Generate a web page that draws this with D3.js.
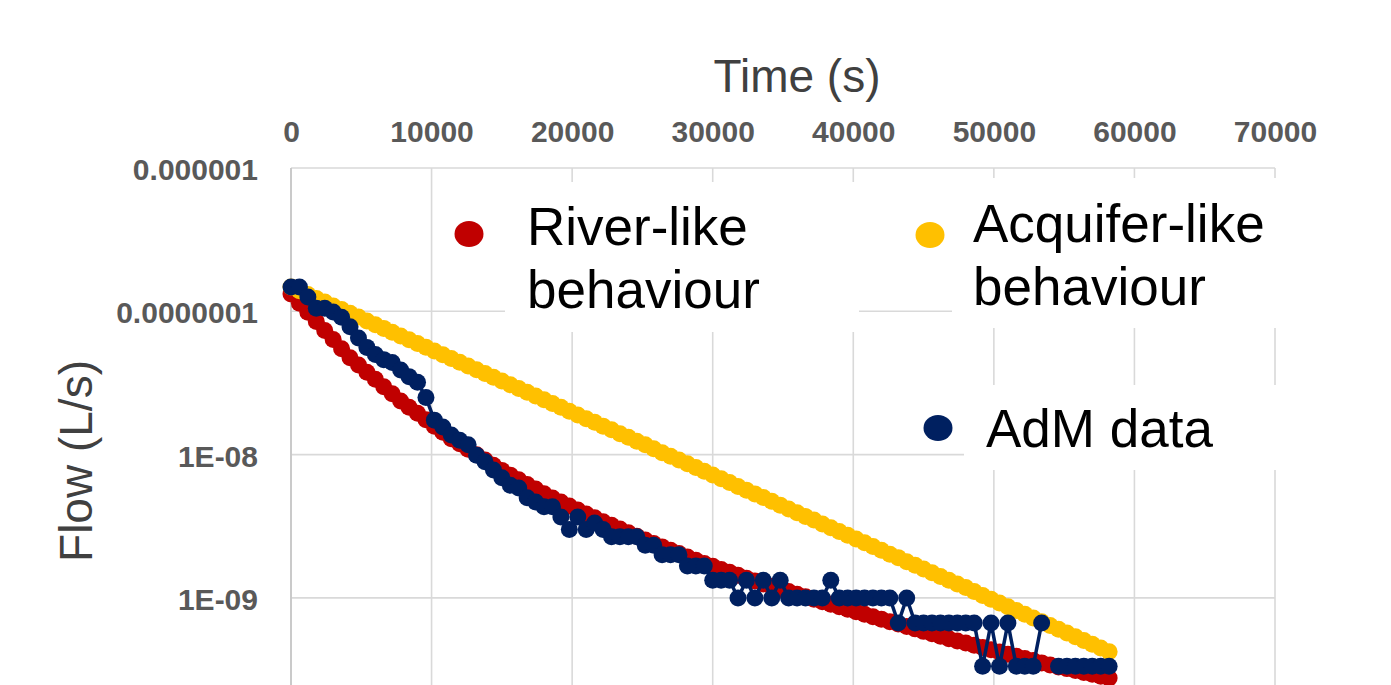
<!DOCTYPE html>
<html>
<head>
<meta charset="utf-8">
<script src="https://cdn.jsdelivr.net/npm/d3@7"></script>
<style>
  html, body { margin: 0; padding: 0; background: #fff; overflow: hidden; }
  svg { display: block; font-family: 'Liberation Sans', Arial, sans-serif; }
</style>
</head>
<body>
<div id="chart"></div>
<script>
// Sample times (s), one reading every 10 minutes
const times = [
  0, 600, 1200, 1800, 2400, 3000, 3600, 4200, 4800, 5400,
  6000, 6600, 7200, 7800, 8400, 9000, 9600, 10200, 10800, 11400,
  12000, 12600, 13200, 13800, 14400, 15000, 15600, 16200, 16800, 17400,
  18000, 18600, 19200, 19800, 20400, 21000, 21600, 22200, 22800, 23400,
  24000, 24600, 25200, 25800, 26400, 27000, 27600, 28200, 28800, 29400,
  30000, 30600, 31200, 31800, 32400, 33000, 33600, 34200, 34800, 35400,
  36000, 36600, 37200, 37800, 38400, 39000, 39600, 40200, 40800, 41400,
  42000, 42600, 43200, 43800, 44400, 45000, 45600, 46200, 46800, 47400,
  48000, 48600, 49200, 49800, 50400, 51000, 51600, 52200, 52800, 53400,
  54000, 54600, 55200, 55800, 56400, 57000, 57600, 58200
];

const riverFlow = [
  1.32e-7, 1.14e-7, 9.84e-8, 8.50e-8, 7.35e-8, 6.35e-8, 5.47e-8, 4.74e-8, 4.22e-8, 3.76e-8,
  3.35e-8, 2.98e-8, 2.66e-8, 2.37e-8, 2.14e-8, 1.94e-8, 1.75e-8, 1.58e-8, 1.43e-8, 1.29e-8,
  1.19e-8, 1.09e-8, 9.98e-9, 9.17e-9, 8.42e-9, 7.76e-9, 7.19e-9, 6.68e-9, 6.19e-9, 5.75e-9,
  5.34e-9, 4.97e-9, 4.67e-9, 4.38e-9, 4.11e-9, 3.85e-9, 3.62e-9, 3.40e-9, 3.21e-9, 3.02e-9,
  2.85e-9, 2.69e-9, 2.54e-9, 2.40e-9, 2.27e-9, 2.15e-9, 2.04e-9, 1.93e-9, 1.83e-9, 1.74e-9,
  1.66e-9, 1.58e-9, 1.51e-9, 1.44e-9, 1.37e-9, 1.31e-9, 1.25e-9, 1.20e-9, 1.15e-9, 1.11e-9,
  1.06e-9, 1.02e-9, 9.79e-10, 9.41e-10, 9.02e-10, 8.67e-10, 8.33e-10, 8.00e-10, 7.69e-10, 7.39e-10,
  7.11e-10, 6.83e-10, 6.57e-10, 6.32e-10, 6.08e-10, 5.84e-10, 5.62e-10, 5.40e-10, 5.19e-10, 5.01e-10,
  4.84e-10, 4.67e-10, 4.51e-10, 4.35e-10, 4.20e-10, 4.05e-10, 3.91e-10, 3.78e-10, 3.65e-10, 3.52e-10,
  3.40e-10, 3.30e-10, 3.21e-10, 3.11e-10, 3.02e-10, 2.93e-10, 2.84e-10, 2.76e-10
];

const aquiferFlow = [
  1.48e-7, 1.39e-7, 1.31e-7, 1.23e-7, 1.16e-7, 1.09e-7, 1.03e-7, 9.68e-8, 9.11e-8, 8.57e-8,
  8.07e-8, 7.60e-8, 7.15e-8, 6.73e-8, 6.34e-8, 5.97e-8, 5.62e-8, 5.29e-8, 4.98e-8, 4.69e-8,
  4.41e-8, 4.15e-8, 3.91e-8, 3.68e-8, 3.46e-8, 3.26e-8, 3.07e-8, 2.89e-8, 2.72e-8, 2.56e-8,
  2.41e-8, 2.27e-8, 2.14e-8, 2.01e-8, 1.89e-8, 1.78e-8, 1.68e-8, 1.58e-8, 1.49e-8, 1.40e-8,
  1.32e-8, 1.24e-8, 1.17e-8, 1.10e-8, 1.03e-8, 9.74e-9, 9.17e-9, 8.63e-9, 8.12e-9, 7.65e-9,
  7.20e-9, 6.78e-9, 6.38e-9, 6.00e-9, 5.65e-9, 5.32e-9, 5.01e-9, 4.72e-9, 4.44e-9, 4.18e-9,
  3.93e-9, 3.70e-9, 3.49e-9, 3.28e-9, 3.09e-9, 2.91e-9, 2.74e-9, 2.58e-9, 2.43e-9, 2.28e-9,
  2.15e-9, 2.02e-9, 1.91e-9, 1.79e-9, 1.69e-9, 1.59e-9, 1.50e-9, 1.41e-9, 1.33e-9, 1.25e-9,
  1.18e-9, 1.11e-9, 1.04e-9, 9.80e-10, 9.23e-10, 8.68e-10, 8.18e-10, 7.70e-10, 7.24e-10, 6.82e-10,
  6.42e-10, 6.04e-10, 5.69e-10, 5.36e-10, 5.04e-10, 4.75e-10, 4.47e-10, 4.21e-10
];

// measured data, one missing reading at 54000 s
const admFlow = [
  1.48e-7, 1.48e-7, 1.26e-7, 1.05e-7, 1.05e-7, 9.9e-8, 9.1e-8, 7.8e-8, 6.5e-8, 5.6e-8,
  5.0e-8, 4.6e-8, 4.4e-8, 3.9e-8, 3.5e-8, 3.2e-8, 2.5e-8, 1.74e-8, 1.56e-8, 1.37e-8,
  1.26e-8, 1.17e-8, 9.9e-9, 8.9e-9, 7.8e-9, 6.9e-9, 6.1e-9, 5.85e-9, 5.0e-9, 4.67e-9,
  4.33e-9, 4.33e-9, 3.67e-9, 3.0e-9, 3.67e-9, 3.0e-9, 3.33e-9, 3.0e-9, 2.67e-9, 2.67e-9,
  2.67e-9, 2.67e-9, 2.33e-9, 2.33e-9, 2.0e-9, 2.0e-9, 2.0e-9, 1.67e-9, 1.67e-9, 1.67e-9,
  1.33e-9, 1.33e-9, 1.33e-9, 1.0e-9, 1.33e-9, 1.0e-9, 1.33e-9, 1.0e-9, 1.33e-9, 1.0e-9,
  1.0e-9, 1.0e-9, 1.0e-9, 1.0e-9, 1.33e-9, 1.0e-9, 1.0e-9, 1.0e-9, 1.0e-9, 1.0e-9,
  1.0e-9, 1.0e-9, 6.67e-10, 1.0e-9, 6.67e-10, 6.67e-10, 6.67e-10, 6.67e-10, 6.67e-10, 6.67e-10,
  6.67e-10, 6.67e-10, 3.33e-10, 6.67e-10, 3.33e-10, 6.67e-10, 3.33e-10, 3.33e-10, 3.33e-10, 6.67e-10,
  null, 3.33e-10, 3.33e-10, 3.33e-10, 3.33e-10, 3.33e-10, 3.33e-10, 3.33e-10
];

const xTicks = [0, 10000, 20000, 30000, 40000, 50000, 60000, 70000];
const yTicks = [1e-6, 1e-7, 1e-8, 1e-9];
const yTickLabels = ['0.000001', '0.0000001', '1E-08', '1E-09'];

const seriesNames = ['River-like behaviour', 'Acquifer-like behaviour', 'AdM data'];
const seriesColors = ['#C00000', '#FFC000', '#002060'];

const W = 1391, H = 685;
const margin = { top: 168, left: 291 };
const width = 984;          // 0 .. 70000 s
const height = 573.2;       // 1e-6 .. 1e-10 (bottom decade falls off the page)

const x = d3.scaleLinear().domain([0, 70000]).range([0, width]);
const y = d3.scaleLog().domain([1e-6, 1e-10]).range([0, height]);

const svg = d3.select('#chart').append('svg')
  .attr('width', W).attr('height', H)
  .attr('viewBox', `0 0 ${W} ${H}`);

const viz = svg.append('g')
  .attr('transform', `translate(${margin.left},${margin.top})`);

// gridlines
const gridColor = '#d9d9d9';
viz.append('g').selectAll('line').data(xTicks).join('line')
  .attr('x1', d => x(d)).attr('x2', d => x(d))
  .attr('y1', 0).attr('y2', height)
  .attr('stroke', gridColor).attr('stroke-width', 1.6);
viz.append('g').selectAll('line').data(yTicks).join('line')
  .attr('x1', 0).attr('x2', width)
  .attr('y1', d => y(d)).attr('y2', d => y(d))
  .attr('stroke', gridColor).attr('stroke-width', 1.6);
// left axis line a touch darker
viz.append('line')
  .attr('x1', 0).attr('x2', 0).attr('y1', 0).attr('y2', height)
  .attr('stroke', '#c8c8c8').attr('stroke-width', 1.8);

// axes (labels only)
const xAxis = d3.axisTop(x).tickValues(xTicks).tickFormat(d3.format('d'))
  .tickSize(0).tickPadding(26);
const gx = viz.append('g').call(xAxis);
const yAxis = d3.axisLeft(y).tickValues(yTicks)
  .tickFormat((d, i) => yTickLabels[i]).tickSize(0).tickPadding(33);
const gy = viz.append('g').call(yAxis);
[gx, gy].forEach(g => {
  g.select('.domain').remove();
  g.selectAll('text')
    .attr('fill', '#595959')
    .style('font-family', "'Liberation Sans', Arial, sans-serif")
    .style('font-size', '30px')
    .style('font-weight', 'bold');
});
gy.selectAll('text').attr('dy', '0.38em');

// axis titles
svg.append('text')
  .attr('x', 797).attr('y', 92)
  .attr('text-anchor', 'middle')
  .attr('fill', '#404040')
  .style('font-size', '46px')
  .text('Time (s)');
svg.append('text')
  .attr('transform', 'translate(92,461) rotate(-90)')
  .attr('text-anchor', 'middle')
  .attr('fill', '#404040')
  .style('font-size', '46px')
  .text('Flow (L/s)');

// legend text boxes (white, they hide the gridlines behind them)
const legendBoxes = [
  { x: 505, y: 182, w: 354, h: 150 },
  { x: 952, y: 178, w: 340, h: 150 },
  { x: 964, y: 385, w: 328, h: 85 }
];
svg.append('g').selectAll('rect').data(legendBoxes).join('rect')
  .attr('x', d => d.x).attr('y', d => d.y)
  .attr('width', d => d.w).attr('height', d => d.h)
  .attr('fill', '#fff');

// series
const r = 8.5;
const asPoints = vals => vals.map((v, i) => ({ t: times[i], v }));
const allSeries = [riverFlow, aquiferFlow, admFlow].map(asPoints);

const plot = viz.append('g');
const adm = allSeries[2];

// draw order: river, acquifer, then the AdM line and markers on top
[0, 1].forEach(k => {
  plot.append('g').selectAll('circle').data(allSeries[k]).join('circle')
    .attr('cx', d => x(d.t)).attr('cy', d => y(d.v)).attr('r', r)
    .attr('fill', seriesColors[k]);
});
plot.append('path')
  .datum(adm)
  .attr('fill', 'none')
  .attr('stroke', seriesColors[2])
  .attr('stroke-width', 3.5)
  .attr('d', d3.line().defined(d => d.v != null).x(d => x(d.t)).y(d => y(d.v)));
plot.append('g').selectAll('circle').data(adm.filter(d => d.v != null)).join('circle')
  .attr('cx', d => x(d.t)).attr('cy', d => y(d.v)).attr('r', r)
  .attr('fill', seriesColors[2]);

// legend entries
const legendItems = [
  { mx: 469, my: 234, tx: 527, ty: 245, lines: ['River-like', 'behaviour'] },
  { mx: 930, my: 235, tx: 973, ty: 242, lines: ['Acquifer-like', 'behaviour'] },
  { mx: 938, my: 428, tx: 986, ty: 447, lines: ['AdM data'] }
];
const lg = svg.append('g');
legendItems.forEach((d, i) => {
  lg.append('ellipse')
    .attr('cx', d.mx).attr('cy', d.my).attr('rx', 14.5).attr('ry', 13)
    .attr('fill', seriesColors[i]);
  const t = lg.append('text')
    .attr('x', d.tx).attr('y', d.ty)
    .attr('fill', '#000')
    .style('font-size', '53px');
  t.selectAll('tspan').data(d.lines).join('tspan')
    .attr('x', d.tx)
    .attr('dy', (l, j) => j === 0 ? 0 : 63)
    .text(l => l);
});
</script>
</body>
</html>
